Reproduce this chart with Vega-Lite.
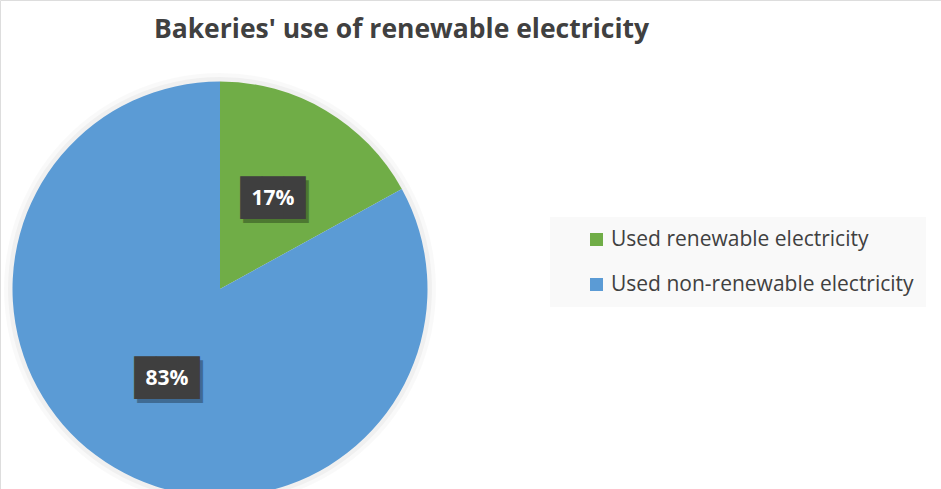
{
  "$schema": "https://vega.github.io/schema/vega-lite/v6.json",
  "width": 941,
  "height": 489,
  "autosize": "none",
  "padding": 0,
  "background": "white",
  "title": {
    "text": "Bakeries' use of renewable electricity",
    "font": "Open Sans",
    "fontSize": 26.5,
    "fontWeight": "bold",
    "color": "#404040",
    "anchor": "middle",
    "dx": -69,
    "baseline": "alphabetic",
    "offset": -64
  },
  "data": {
    "values": [
      {"category": "Used renewable electricity", "value": 17, "label": "17%"},
      {"category": "Used non-renewable electricity", "value": 83, "label": "83%"}
    ]
  },
  "encoding": {
    "theta": {"field": "value", "type": "quantitative", "stack": true},
    "order": {"field": "value", "type": "quantitative", "sort": "ascending"},
    "x": {"value": 220},
    "y": {"value": 289}
  },
  "layer": [
    {
      "mark": {"type": "arc", "outerRadius": 216, "fill": "#000000", "opacity": 0.025}
    },
    {
      "mark": {"type": "arc", "outerRadius": 212, "fill": "#000000", "opacity": 0.035}
    },
    {
      "mark": {"type": "arc", "outerRadius": 207.5},
      "encoding": {
        "color": {
          "field": "category",
          "type": "nominal",
          "scale": {
            "domain": ["Used renewable electricity", "Used non-renewable electricity"],
            "range": ["#70AD47", "#5B9BD5"]
          },
          "legend": {
            "orient": "none",
            "legendX": 550,
            "legendY": 217,
            "title": null,
            "fillColor": "#f9f9f9",
            "padding": 12,
            "symbolType": "square",
            "symbolSize": 169,
            "symbolStrokeWidth": 0,
            "symbolOffset": 24,
            "labelFont": "Open Sans",
            "labelFontSize": 21,
            "labelColor": "#404040",
            "labelOffset": 4,
            "rowPadding": 23,
            "labelLimit": 400,
            "labelExpr": "datum.label + '\u00a0\u00a0\u00a0'"
          }
        }
      }
    },
    {
      "mark": {"type": "text", "radius": 104, "text": "███", "font": "DejaVu Sans Mono", "fontSize": 36, "fill": "#000000", "opacity": 0.3, "dx": 3, "dy": 4, "baseline": "middle", "align": "center"}
    },
    {
      "mark": {"type": "text", "radius": 104, "text": "███", "font": "DejaVu Sans Mono", "fontSize": 36, "fill": "#3f3f3f", "baseline": "middle", "align": "center"}
    },
    {
      "mark": {"type": "text", "radius": 104, "font": "Open Sans", "fontSize": 21, "fontWeight": "bold", "fill": "white", "baseline": "middle", "align": "center"},
      "encoding": {"text": {"field": "label", "type": "nominal"}}
    }
  ]
}
